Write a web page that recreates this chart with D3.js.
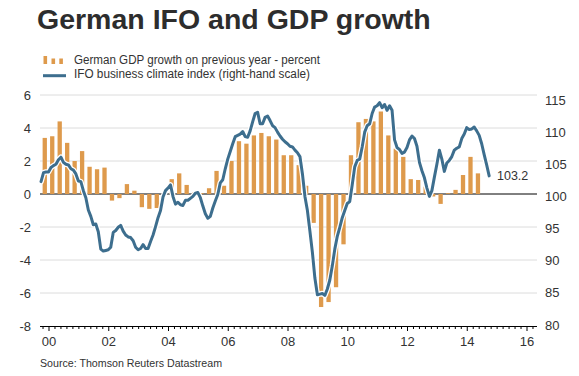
<!DOCTYPE html>
<html><head><meta charset="utf-8">
<script src="https://cdn.jsdelivr.net/npm/d3@7/dist/d3.min.js"></script>
<style>
body{margin:0;background:#fff}
svg{display:block}
text{font-family:"Liberation Sans",Arial,Helvetica,sans-serif}
</style>
</head><body>
<svg id="chart" width="579" height="376"></svg>
<script>
// ---------------- data ----------------
const titleText = "German IFO and GDP growth";
const legendLabels = ["German GDP growth on previous year - percent", "IFO business climate index (right-hand scale)"];
const sourceText = "Source: Thomson Reuters Datastream";
const leftTicks = [6, 4, 2, 0, -2, -4, -6, -8];
const rightTicks = [115, 110, 105, 100, 95, 90, 85, 80];
const xTickYears = [2000, 2002, 2004, 2006, 2008, 2010, 2012, 2014, 2016];
const xTickLabels = ["00", "02", "04", "06", "08", "10", "12", "14", "16"];
const lastValueLabel = "103.2";

// GDP growth y/y, quarterly, first quarter = 1999 Q4
const gdpStartYear = 1999, gdpStartQuarter = 4;
const gdpGrowth = [
  3.4, 3.5, 4.4, 3.1, 2.0, 2.6, 1.65, 1.5, 1.6, -0.4,
  -0.25, 0.6, 0.2, -0.8, -0.9, -0.85, 0.1, 0.9, 1.25, 0.55,
  0.1, 0.05, 0.35, 1.4, 0.5, 2.0, 3.2, 3.05, 3.55, 3.7,
  3.5, 3.3, 2.35, 2.35, 1.75, 0.5, -1.75, -6.85, -6.55, -5.65,
  -3.05, 2.35, 4.35, 4.55, 4.4, 5.0, 3.55, 2.75, 2.25, 0.9,
  0.85, 0.45, -0.15, -0.6, 0.05, 0.25, 1.15, 2.25, 1.25
];

// IFO business climate, monthly, first month = Oct 1999
const ifoStartYear = 1999, ifoStartMonth = 10;
const ifoIndex = [
  102.3, 103.7, 103.8, 103.8, 104.5, 104.8, 105.0, 105.7, 106.1, 105.3,
  105.0, 104.9, 104.3, 104.1, 103.5, 102.4, 102.3, 100.9, 99.8, 97.9,
  96.9, 95.6, 95.7, 94.5, 91.8, 91.5, 91.6, 91.7, 92.1, 94.4,
  94.7, 95.2, 95.5, 94.6, 94.0, 93.7, 93.6, 93.1, 92.1, 91.7,
  91.9, 92.5, 91.9, 91.9, 93.0, 94.0, 95.3, 96.7, 97.8, 99.9,
  100.9, 101.3, 101.8, 100.0, 98.8, 99.1, 98.7, 98.6, 99.4, 99.4,
  99.7, 100.0, 100.5, 100.6, 99.8, 98.5, 97.3, 96.6, 96.9, 98.2,
  99.3, 100.3, 102.1, 102.6, 104.3, 105.8, 107.0, 108.2, 109.3, 109.5,
  109.7, 110.1, 109.3, 109.2, 110.2, 111.6, 112.9, 113.1, 111.3, 111.3,
  112.3, 112.5, 111.8, 111.0, 110.7, 110.0, 109.4, 108.9, 108.5, 108.2,
  107.8, 107.7, 107.2, 106.8, 106.2, 103.5, 100.0, 97.8, 94.6, 91.3,
  87.3, 84.7, 84.8, 84.9, 84.6, 85.6, 87.0, 89.2, 91.8, 93.8,
  95.2, 96.7, 97.8, 98.9, 99.2, 101.8, 104.6, 105.6, 105.8, 107.7,
  110.0, 111.0, 111.3, 112.9, 113.9, 114.1, 114.6, 113.8, 114.3, 113.4,
  114.1, 113.4, 108.8, 107.6, 107.3, 106.7, 106.9, 107.6, 108.8, 109.4,
  109.0, 107.8, 105.3, 104.0, 102.9, 101.3, 100.0, 100.9, 103.0, 105.0,
  107.2, 105.8, 103.9, 105.2, 105.6, 106.2, 107.2, 107.5, 107.7, 109.0,
  109.7, 110.7, 110.4, 110.5, 110.8, 110.2, 109.5, 108.2, 106.5, 104.9,
  103.2
];

// ---------------- chart ----------------
const svg = d3.select("#chart");
const barColor = "#de9a4c";
const lineColor = "#3d6e8e";
const gridColor = "#dcdcdc";
const textColor = "#333";
const plotLeft = 40, plotRight = 537;

const x = d3.scaleLinear().domain([2000, 2016]).range([48.5, 526.5]);
const yL = d3.scaleLinear().domain([-8, 6]).range([326, 95]);
const yR = d3.scaleLinear().domain([80, 115]).range([325, 100]);

const gdpData = gdpGrowth.map((v, i) => ({
  t: gdpStartYear + (gdpStartQuarter - 1) / 4 + 0.125 + i / 4, v
}));
const ifoData = ifoIndex.map((v, i) => ({
  t: ifoStartYear + (ifoStartMonth - 1) / 12 + i / 12, v
}));

// title
svg.append("text").attr("x", 37).attr("y", 28.5)
  .attr("font-size", 28.5).attr("font-weight", "bold").attr("fill", "#2d2d2d")
  .text(titleText);

// legend
const lg = svg.append("g");
[[43.5, 8], [51.5, 5.5], [59.3, 5.5]].forEach(([lx, h]) => {
  lg.append("rect").attr("x", lx).attr("y", 64 - h).attr("width", 3.6).attr("height", h).attr("fill", barColor);
});
lg.append("line").attr("x1", 43).attr("x2", 66).attr("y1", 75.7).attr("y2", 75.7)
  .attr("stroke", lineColor).attr("stroke-width", 3);
lg.append("text").attr("x", 74).attr("y", 64.3).attr("font-size", 12).attr("fill", textColor)
  .attr("textLength", 246).attr("lengthAdjust", "spacingAndGlyphs").text(legendLabels[0]);
lg.append("text").attr("x", 74).attr("y", 77.6).attr("font-size", 12).attr("fill", textColor)
  .attr("textLength", 236).attr("lengthAdjust", "spacingAndGlyphs").text(legendLabels[1]);

// gridlines
svg.append("g").selectAll("line").data(leftTicks.filter(t => t !== 0 && t !== -8)).join("line")
  .attr("x1", plotLeft).attr("x2", plotRight)
  .attr("y1", d => yL(d)).attr("y2", d => yL(d))
  .attr("stroke", gridColor).attr("stroke-width", 1);

// zero line
svg.append("line").attr("x1", plotLeft).attr("x2", plotRight)
  .attr("y1", yL(0)).attr("y2", yL(0)).attr("stroke", "#000").attr("stroke-width", 1);

// left axis labels
svg.append("g").selectAll("text").data(leftTicks).join("text")
  .attr("x", 31).attr("y", d => yL(d)).attr("dy", "0.35em")
  .attr("text-anchor", "end").attr("font-size", 13).attr("fill", textColor)
  .text(d => d);

// right axis labels
svg.append("g").selectAll("text").data(rightTicks).join("text")
  .attr("x", 545).attr("y", d => yR(d)).attr("dy", "0.35em")
  .attr("text-anchor", "start").attr("font-size", 13).attr("fill", textColor)
  .text(d => d);

// bars
svg.append("g").selectAll("rect").data(gdpData).join("rect")
  .attr("x", d => x(d.t) - 2.15).attr("width", 4.3)
  .attr("y", d => Math.min(yL(d.v), yL(0)))
  .attr("height", d => Math.abs(yL(d.v) - yL(0)))
  .attr("fill", barColor);

// IFO line
const line = d3.line().x(d => x(d.t)).y(d => yR(d.v));
svg.append("path").datum(ifoData).attr("d", line)
  .attr("fill", "none").attr("stroke", "#fff").attr("stroke-width", 5.5)
  .attr("stroke-linejoin", "round").attr("stroke-linecap", "round");
svg.append("path").datum(ifoData).attr("d", line)
  .attr("fill", "none").attr("stroke", lineColor).attr("stroke-width", 3)
  .attr("stroke-linejoin", "round").attr("stroke-linecap", "round");

// last value label
svg.append("text").attr("x", 497).attr("y", yR(ifoIndex[ifoIndex.length - 1]) + 4.5)
  .attr("font-size", 12.5).attr("fill", textColor).text(lastValueLabel);

// x axis
const axisY = 326;
const minorTicks = d3.range(1999.8, 2016.3, 0.2).map(v => Math.round(v * 10) / 10)
  .filter(v => Math.abs(v - Math.round(v / 2) * 2) > 0.01);
const xAxisMinor = d3.axisBottom(x).tickValues(minorTicks).tickSize(3).tickFormat("");
const xAxisMajor = d3.axisBottom(x).tickValues(xTickYears).tickSize(5).tickPadding(6)
  .tickFormat((d, i) => xTickLabels[i]);
const gMinor = svg.append("g").attr("transform", `translate(0,${axisY})`).call(xAxisMinor);
const gMajor = svg.append("g").attr("transform", `translate(0,${axisY})`).call(xAxisMajor);
[gMinor, gMajor].forEach(g => {
  g.select(".domain").remove();
  g.selectAll(".tick line").attr("stroke", "#000");
});
gMajor.selectAll(".tick text").attr("font-size", 13).attr("fill", textColor)
  .attr("font-family", '"Liberation Sans",Arial,sans-serif');
svg.append("line").attr("x1", plotLeft).attr("x2", plotRight)
  .attr("y1", axisY + 0.5).attr("y2", axisY + 0.5).attr("stroke", "#000").attr("stroke-width", 1);

// source
svg.append("text").attr("x", 40).attr("y", 366.5).attr("font-size", 11).attr("fill", textColor)
  .attr("textLength", 182).attr("lengthAdjust", "spacingAndGlyphs").text(sourceText);
</script>
</body></html>
